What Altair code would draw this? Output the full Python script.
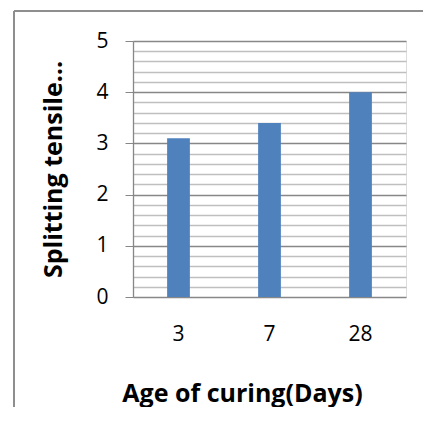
import altair as alt
import pandas as pd

ages = ["3", "7", "28"]
strength = [3.1, 3.4, 4.0]
y_ticks = [0, 0.2, 0.4, 0.6, 0.8, 1, 1.2, 1.4, 1.6, 1.8, 2, 2.2, 2.4, 2.6, 2.8,
           3, 3.2, 3.4, 3.6, 3.8, 4, 4.2, 4.4, 4.6, 4.8, 5]

df = pd.DataFrame({"age": ages, "strength": strength})

FONT = "Open Sans"
is_major = "datum.value % 1 === 0"

bars = alt.Chart(df).mark_bar(color="#4F81BD").encode(
    x=alt.X("age:N", sort=ages,
            scale=alt.Scale(paddingInner=0.75, paddingOuter=0.375),
            axis=alt.Axis(title="Age of curing(Days)", labelAngle=0, ticks=False,
                          domain=False, labelFontSize=21, labelFont=FONT,
                          labelColor="#000", labelPadding=43,
                          labelBaseline="alphabetic",
                          titleFont=FONT, titleFontSize=25, titleFontWeight="bold",
                          titleColor="#000", titleX=109, titleY=104,
                          titleBaseline="alphabetic")),
    y=alt.Y("strength:Q", scale=alt.Scale(domain=[0, 5], nice=False),
            axis=alt.Axis(title="Splitting tensile…", values=y_ticks,
                          labelExpr="datum.value % 1 === 0 ? format(datum.value, 'd') : ''",
                          gridColor=alt.condition(is_major, alt.value("#878787"), alt.value("#BFBFBF")),
                          gridWidth=1.3,
                          tickSize=8, tickColor="#878787",
                          tickOpacity=alt.condition(is_major, alt.value(1), alt.value(0)),
                          domainColor="#878787", domainWidth=1.3,
                          labelFontSize=21, labelFont=FONT, labelColor="#000",
                          labelPadding=17,
                          titleFont=FONT, titleFontSize=25, titleFontWeight="bold",
                          titleColor="#000", titleAngle=270, titleX=-80, titleY=128,
                          titleBaseline="middle", titleAlign="center")),
)

frame_left = alt.Chart(df).mark_rule(stroke="#8C8C8C", strokeWidth=1.5).encode(
    x=alt.value(-119), y=alt.value(-30), y2=alt.value(420)
)
frame_top = alt.Chart(df).mark_rule(stroke="#8C8C8C", strokeWidth=1.5).encode(
    x=alt.value(-119), x2=alt.value(320), y=alt.value(-30)
)

chart = alt.layer(frame_left, frame_top, bars).properties(
    width=273, height=256,
    autosize=alt.AutoSizeParams(type="none"),
    padding={"left": 125, "top": 33, "right": 17, "bottom": 110},
).configure_view(stroke=None).configure(background="white")

chart.save("out.html", embed_options={"renderer": "svg", "actions": False})
